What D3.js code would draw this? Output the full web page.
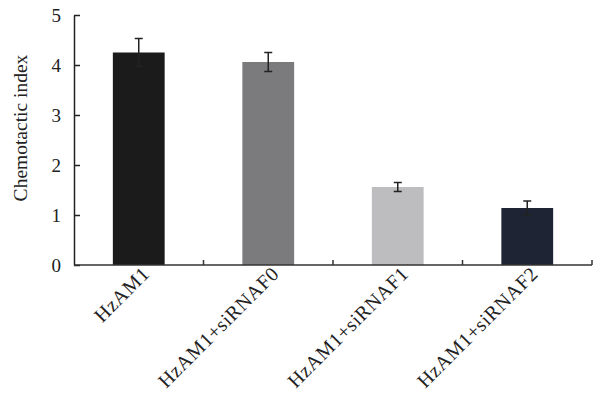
<!DOCTYPE html>
<html>
<head>
<meta charset="utf-8">
<script src="https://cdn.jsdelivr.net/npm/d3@7"></script>
<style>
  body { margin: 0; background: #fff; }
  text { font-family: "Liberation Serif", "Times New Roman", serif; fill: #222; }
</style>
</head>
<body>
<svg id="chart"></svg>
<script>
const categories = ['HzAM1', 'HzAM1+siRNAF0', 'HzAM1+siRNAF1', 'HzAM1+siRNAF2'];
const values = [4.25, 4.06, 1.56, 1.14];
const errors = [0.28, 0.19, 0.09, 0.14];
const barColors = ['#1b1b1c', '#7b7b7d', '#bdbdbf', '#1f2434'];
const yTicks = [0, 1, 2, 3, 4, 5];

const width = 599, height = 398;
const margin = { top: 15, right: 7, bottom: 133, left: 74 };
const innerW = width - margin.left - margin.right;
const innerH = height - margin.top - margin.bottom;

const svg = d3.select('#chart')
    .attr('width', width)
    .attr('height', height);

const chart = svg.append('g')
    .attr('transform', `translate(${margin.left}, ${margin.top})`);

const xscale = d3.scaleBand()
    .domain(categories)
    .range([0, innerW])
    .paddingInner(0.6)
    .paddingOuter(0.3);

const yscale = d3.scaleLinear()
    .domain([0, 5])
    .range([innerH, 0]);

// bars
chart.selectAll('rect.bar')
    .data(categories)
    .join('rect')
    .attr('class', 'bar')
    .attr('x', d => xscale(d))
    .attr('y', (d, i) => yscale(values[i]))
    .attr('width', xscale.bandwidth())
    .attr('height', (d, i) => innerH - yscale(values[i]))
    .attr('fill', (d, i) => barColors[i]);

// error bars
const cap = 4;
const err = chart.selectAll('g.err')
    .data(categories)
    .join('g')
    .attr('class', 'err')
    .attr('stroke', '#222')
    .attr('stroke-width', 1.5);

err.append('line')
    .attr('x1', d => xscale(d) + xscale.bandwidth() / 2)
    .attr('x2', d => xscale(d) + xscale.bandwidth() / 2)
    .attr('y1', (d, i) => yscale(values[i] + errors[i]))
    .attr('y2', (d, i) => yscale(values[i] - errors[i]));

err.append('line')
    .attr('x1', d => xscale(d) + xscale.bandwidth() / 2 - cap)
    .attr('x2', d => xscale(d) + xscale.bandwidth() / 2 + cap)
    .attr('y1', (d, i) => yscale(values[i] + errors[i]))
    .attr('y2', (d, i) => yscale(values[i] + errors[i]));

err.append('line')
    .attr('x1', d => xscale(d) + xscale.bandwidth() / 2 - cap)
    .attr('x2', d => xscale(d) + xscale.bandwidth() / 2 + cap)
    .attr('y1', (d, i) => yscale(values[i] - errors[i]))
    .attr('y2', (d, i) => yscale(values[i] - errors[i]));

// y axis, ticks pointing inward
const yaxis = d3.axisLeft(yscale)
    .tickValues(yTicks)
    .tickFormat(d3.format('d'))
    .tickSize(-6)
    .tickPadding(13)
    .tickSizeOuter(0);

const yaxisGroup = chart.append('g').call(yaxis);
yaxisGroup.select('.domain').attr('stroke', '#222').attr('stroke-width', 1.5);
yaxisGroup.selectAll('.tick line').attr('stroke', '#222').attr('stroke-width', 1.5);
yaxisGroup.selectAll('.tick text')
    .attr('font-size', 19)
    .attr('font-family', '"Liberation Serif", serif')
    .attr('fill', '#222');

// x axis line with small upward ticks between categories
const step = xscale.step();
const boundaries = d3.range(1, categories.length + 1).map(i => i * step);
chart.append('line')
    .attr('x1', 0).attr('x2', innerW)
    .attr('y1', innerH).attr('y2', innerH)
    .attr('stroke', '#333').attr('stroke-width', 1.5);
chart.selectAll('line.xtick')
    .data(boundaries)
    .join('line')
    .attr('class', 'xtick')
    .attr('x1', d => d).attr('x2', d => d)
    .attr('y1', innerH).attr('y2', innerH - 5)
    .attr('stroke', '#333').attr('stroke-width', 1.5);

// category labels, rotated
chart.selectAll('text.xlabel')
    .data(categories)
    .join('text')
    .attr('class', 'xlabel')
    .attr('font-size', 20)
    .attr('letter-spacing', 0.6)
    .attr('text-anchor', 'end')
    .attr('transform', d => `translate(${xscale(d) + xscale.bandwidth() / 2 + 12}, ${innerH + 10}) rotate(-45)`)
    .text(d => d);

// y label
svg.append('text')
    .attr('transform', `translate(27, ${margin.top + innerH / 2 - 12}) rotate(-90)`)
    .attr('text-anchor', 'middle')
    .attr('font-size', 19.5)
    .text('Chemotactic index');
</script>
</body>
</html>
